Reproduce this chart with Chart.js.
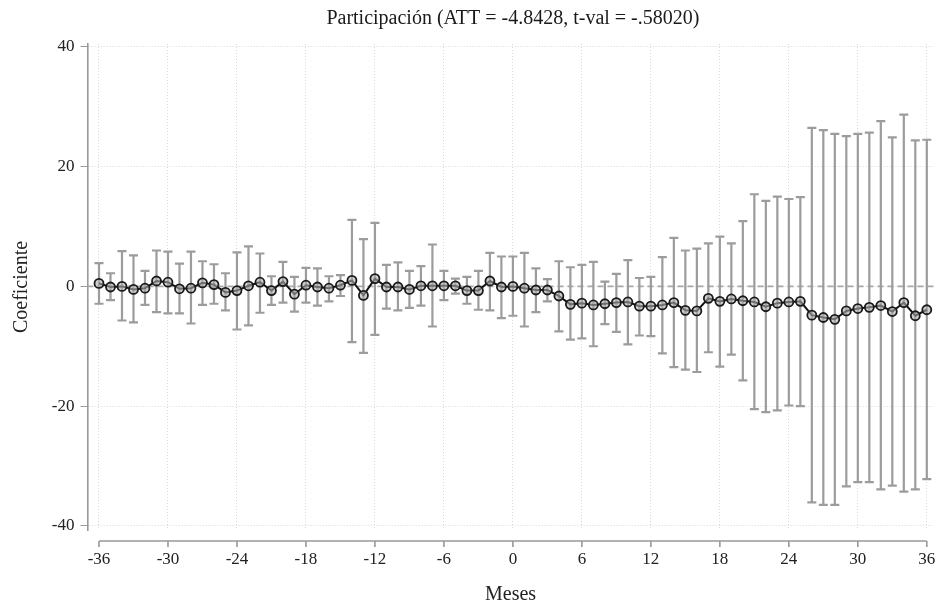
<!DOCTYPE html>
<html lang="es">
  <head>
    <meta charset="UTF-8" />
    <title>Participación - estudio de eventos</title>
    <script src="https://cdn.jsdelivr.net/npm/chart.js"></script>
    <style>
      body {
        margin: 0;
        background: #fff;
      }
      .wrap {
        width: 940px;
        height: 609px;
        position: relative;
      }
    </style>
  </head>
  <body>
    <div class="wrap">
      <canvas id="grafico"></canvas>
    </div>
    <script>
      // meses relativos al evento
      const meses = [
        -36, -35, -34, -33, -32, -31, -30, -29, -28, -27, -26, -25, -24,
        -23, -22, -21, -20, -19, -18, -17, -16, -15, -14, -13, -12, -11,
        -10, -9, -8, -7, -6, -5, -4, -3, -2, -1, 0, 1, 2, 3, 4, 5, 6, 7,
        8, 9, 10, 11, 12, 13, 14, 15, 16, 17, 18, 19, 20, 21, 22, 23, 24,
        25, 26, 27, 28, 29, 30, 31, 32, 33, 34, 35, 36,
      ];
      // coeficientes estimados
      const coef = [
        0.5, -0.1, 0.0, -0.5, -0.3, 0.9, 0.7, -0.4, -0.3, 0.6, 0.3, -1.0, -0.7,
        0.1, 0.7, -0.7, 0.8, -1.3, 0.2, -0.1, -0.3, 0.2, 1.0, -1.5, 1.3, -0.1,
        -0.1, -0.5, 0.1, 0.1, 0.1, 0.1, -0.7, -0.7, 0.9, -0.1, 0.0, -0.3, -0.6, -0.6,
        -1.6, -3.0, -2.8, -3.1, -2.9, -2.7, -2.6, -3.3, -3.3, -3.1, -2.7, -4.0, -4.1,
        -2.0, -2.5, -2.1, -2.4, -2.6, -3.4, -2.8, -2.6, -2.5, -4.8, -5.2, -5.5, -4.1,
        -3.7, -3.5, -3.2, -4.2, -2.7, -4.9, -3.9,
      ];
      // limite superior del intervalo
      const ciSup = [
        3.9, 2.2, 5.9, 5.2, 2.6, 6.0, 5.8, 3.8, 5.8, 4.2, 3.7, 2.2, 5.7,
        6.7, 5.5, 1.7, 4.1, 1.6, 3.1, 3.0, 1.7, 1.9, 11.1, 7.9, 10.6, 3.6,
        4.0, 2.6, 3.4, 7.0, 2.6, 1.3, 1.6, 2.6, 5.6, 5.0, 5.0, 5.6, 3.0, 1.2,
        4.2, 3.2, 3.6, 4.1, 0.8, 2.1, 4.4, 1.4, 1.6, 4.9, 8.1, 6.0, 6.3,
        7.2, 8.3, 7.2, 10.9, 15.4, 14.3, 15.0, 14.6, 14.9, 26.5, 26.1, 25.5, 25.1,
        25.5, 25.7, 27.6, 24.9, 28.7, 24.4, 24.5,
      ];
      // limite inferior del intervalo
      const ciInf = [
        -2.9, -2.3, -5.7, -6.0, -3.1, -4.3, -4.5, -4.5, -6.2, -3.1, -2.9, -4.0, -7.2,
        -6.5, -4.4, -3.1, -2.7, -4.2, -2.7, -3.2, -2.5, -1.6, -9.3, -11.1, -8.1, -3.7,
        -4.0, -3.6, -3.2, -6.7, -2.3, -1.2, -2.9, -3.9, -4.0, -5.3, -4.9, -6.7, -4.3, -2.5,
        -7.5, -8.9, -8.7, -10.0, -6.3, -7.6, -9.7, -8.2, -8.3, -11.2, -13.5, -13.9, -14.3,
        -11.0, -13.4, -11.4, -15.7, -20.5, -21.0, -20.7, -19.9, -20.0, -36.1, -36.5, -36.5, -33.4,
        -32.7, -32.7, -33.9, -33.3, -34.3, -33.9, -32.2,
      ];
      const ticksX = [-36, -30, -24, -18, -12, -6, 0, 6, 12, 18, 24, 30, 36];
      const ticksY = [-40, -20, 0, 20, 40];
      const titulo = "Participación (ATT = -4.8428, t-val = -.58020)";

      const serif = "'Liberation Serif', 'DejaVu Serif', serif";

      // barras de error, linea en cero, eje x y titulo al estilo Stata
      const estiloStata = {
        id: "estiloStata",
        beforeDatasetsDraw(chart) {
          const { ctx, chartArea, scales } = chart;
          const x = scales.x;
          const y = scales.y;
          ctx.save();

          // linea de referencia en 0
          ctx.strokeStyle = "#a8a8a8";
          ctx.lineWidth = 1.6;
          ctx.setLineDash([6, 4]);
          ctx.beginPath();
          ctx.moveTo(chartArea.left, y.getPixelForValue(0));
          ctx.lineTo(chartArea.right, y.getPixelForValue(0));
          ctx.stroke();
          ctx.setLineDash([]);

          // intervalos de confianza
          ctx.strokeStyle = "#9c9c9c";
          ctx.lineWidth = 2.2;
          meses.forEach((m, i) => {
            const px = x.getPixelForValue(m);
            const yHi = y.getPixelForValue(ciSup[i]);
            const yLo = y.getPixelForValue(ciInf[i]);
            ctx.beginPath();
            ctx.moveTo(px, yHi);
            ctx.lineTo(px, yLo);
            ctx.moveTo(px - 4.5, yHi);
            ctx.lineTo(px + 4.5, yHi);
            ctx.moveTo(px - 4.5, yLo);
            ctx.lineTo(px + 4.5, yLo);
            ctx.stroke();
          });
          ctx.restore();
        },
        afterDraw(chart) {
          const { ctx, chartArea, scales } = chart;
          const x = scales.x;
          ctx.save();
          // eje x separado del area de graficado
          const ejeY = chartArea.bottom + 11;
          ctx.strokeStyle = "#999";
          ctx.lineWidth = 1.6;
          ctx.beginPath();
          ctx.moveTo(x.getPixelForValue(ticksX[0]), ejeY);
          ctx.lineTo(x.getPixelForValue(ticksX[ticksX.length - 1]), ejeY);
          ticksX.forEach((t) => {
            const px = x.getPixelForValue(t);
            ctx.moveTo(px, ejeY);
            ctx.lineTo(px, ejeY + 6);
          });
          ctx.stroke();

          // titulo centrado sobre el eje x
          const centro =
            (x.getPixelForValue(ticksX[0]) +
              x.getPixelForValue(ticksX[ticksX.length - 1])) / 2;
          ctx.fillStyle = "#1a1a1a";
          ctx.font = "20px " + serif;
          ctx.textAlign = "center";
          ctx.textBaseline = "middle";
          ctx.fillText(titulo, centro, 19);
          ctx.restore();
        },
      };

      const ctx = document.getElementById("grafico").getContext("2d");

      new Chart(ctx, {
        type: "line",
        data: {
          datasets: [
            {
              label: "Coeficiente",
              data: meses.map((m, i) => ({ x: m, y: coef[i] })),
              borderColor: "#111",
              borderWidth: 2,
              tension: 0,
              pointRadius: 4.5,
              pointBorderWidth: 1.8,
              pointBorderColor: "#1a1a1a",
              pointBackgroundColor: "rgba(175,175,175,0.6)",
            },
          ],
        },
        options: {
          responsive: true,
          maintainAspectRatio: false,
          animation: false,
          layout: { padding: { top: 44, right: 0, bottom: 0, left: 0 } },
          plugins: {
            legend: { display: false },
            tooltip: { enabled: false },
          },
          scales: {
            x: {
              type: "linear",
              min: -37,
              max: 36.6,
              afterBuildTicks: (s) => {
                s.ticks = ticksX.map((v) => ({ value: v }));
              },
              afterFit: (s) => {
                s.height = 79;
                s.paddingLeft = 0;
                s.paddingRight = 0;
              },
              grid: {
                color: "#d9d9d9",
                lineWidth: 1,
                drawTicks: false,
              },
              border: { display: false, dash: [1, 2] },
              ticks: {
                color: "#222",
                padding: 19,
                font: { family: serif, size: 17 },
                maxRotation: 0,
              },
              title: {
                display: true,
                text: "Meses",
                color: "#222",
                font: { family: serif, size: 20 },
                padding: { top: 0, bottom: 2 },
              },
            },
            y: {
              min: -40.7,
              max: 40.5,
              afterBuildTicks: (s) => {
                s.ticks = ticksY.map((v) => ({ value: v }));
              },
              afterFit: (s) => {
                s.width = 87.5;
                s.paddingTop = 0;
                s.paddingBottom = 0;
              },
              grid: {
                color: "#d9d9d9",
                tickColor: "#999",
                tickLength: 7,
                lineWidth: 1,
              },
              border: { color: "#999", width: 1.6, dash: [1, 2] },
              ticks: {
                color: "#222",
                padding: 6,
                font: { family: serif, size: 17 },
              },
              title: {
                display: true,
                text: "Coeficiente",
                color: "#222",
                font: { family: serif, size: 20 },
                padding: { top: 10, bottom: 0 },
              },
            },
          },
        },
        plugins: [estiloStata],
      });
    </script>
  </body>
</html>
